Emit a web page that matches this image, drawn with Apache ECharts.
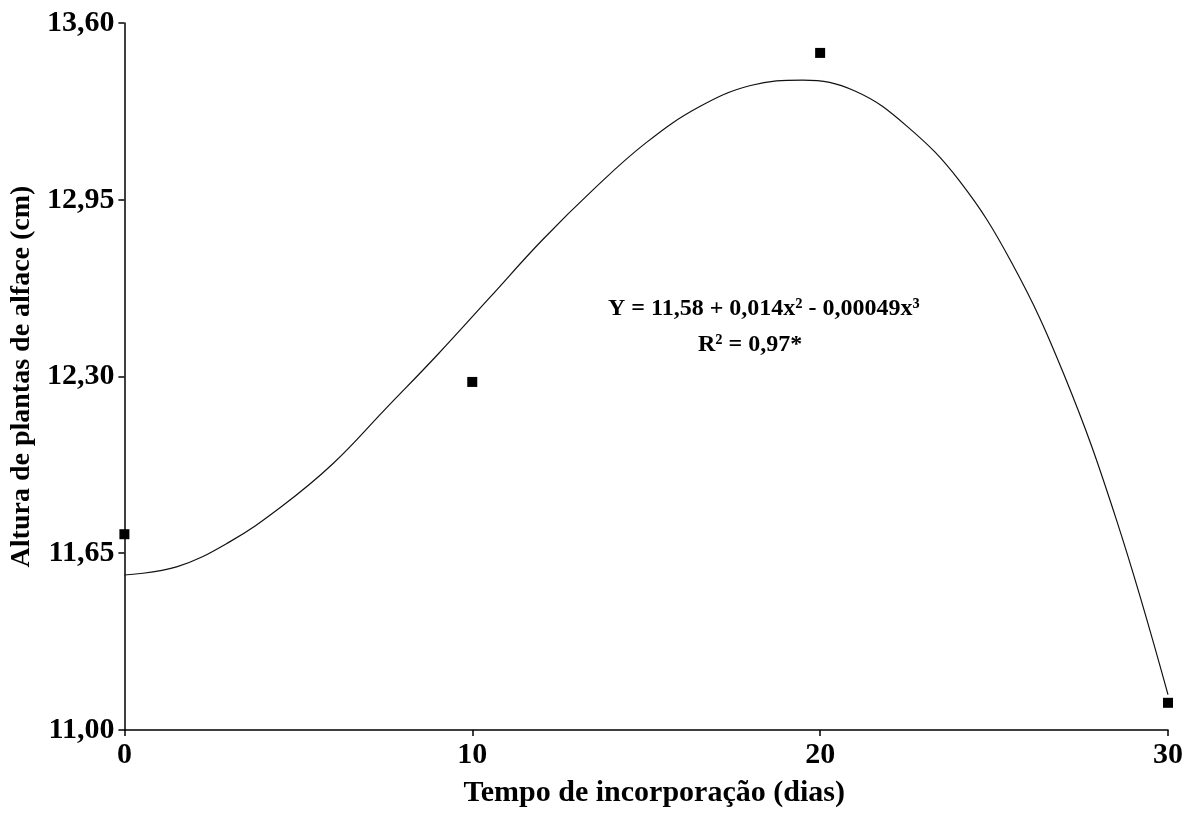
<!DOCTYPE html>
<html>
<head>
<meta charset="utf-8">
<script src="https://cdn.jsdelivr.net/npm/echarts@6/dist/echarts.min.js"></script>
<style>
html,body{margin:0;padding:0;background:#fff;}
#chart{width:1193px;height:813px;}
</style>
</head>
<body>
<div id="chart"></div>
<script>
// Observed means (x = dias, y = altura cm)
const obsX = [0, 10, 20, 30];
const obsY = [11.72, 12.28, 13.49, 11.10];

// Fitted curve, points
const curveX = [0, 1.5, 3, 4.5, 6, 7.5, 9, 10.5, 12, 13.5, 15, 16.5, 18, 19.5, 21, 22.5, 24, 25.5, 27, 28.5, 30];
const curveY = [11.57, 11.60, 11.69, 11.82, 11.98, 12.18, 12.38, 12.59, 12.80, 12.99, 13.16, 13.29, 13.37, 13.39, 13.35, 13.22, 13.02, 12.72, 12.31, 11.78, 11.13];

const xTicks = [0, 10, 20, 30];
const yTicks = [11.00, 11.65, 12.30, 12.95, 13.60];

const xTitle = 'Tempo de incorporação (dias)';
const yTitle = 'Altura de plantas de alface (cm)';
const eqLine1 = 'Y = 11,58 + 0,014x² - 0,00049x³';
const eqLine2 = 'R² = 0,97*';

const serif = '"Liberation Serif", "Times New Roman", serif';

const chart = echarts.init(document.getElementById('chart'));
chart.setOption({
  backgroundColor: '#fff',
  animation: false,
  grid: {left: 120, right: 25, top: 23, bottom: 78, containLabel: false},
  xAxis: {
    type: 'value',
    min: xTicks[0], max: xTicks[xTicks.length - 1], interval: 10,
    name: xTitle, nameLocation: 'middle', nameGap: 48,
    nameTextStyle: {fontFamily: serif, fontWeight: 'bold', fontSize: 30, color: '#000', padding: [0, 0, 0, 16]},
    axisLine: {lineStyle: {color: '#000', width: 1.5}},
    axisTick: {show: true, inside: false, length: 6, lineStyle: {color: '#000', width: 1.5}},
    axisLabel: {fontFamily: serif, fontWeight: 'bold', fontSize: 30, color: '#000', margin: 10},
    splitLine: {show: false}
  },
  yAxis: {
    type: 'value',
    min: yTicks[0], max: yTicks[yTicks.length - 1], interval: 0.65,
    name: yTitle, nameLocation: 'middle', nameGap: 86, nameRotate: 90,
    nameTextStyle: {fontFamily: serif, fontWeight: 'bold', fontSize: 28, color: '#000'},
    axisLine: {show: true, lineStyle: {color: '#000', width: 1.5}},
    axisTick: {show: true, inside: false, length: 6, lineStyle: {color: '#000', width: 1.5}},
    axisLabel: {fontFamily: serif, fontWeight: 'bold', fontSize: 30, color: '#000', margin: 10,
      formatter: v => v.toFixed(2).replace('.', ',')},
    splitLine: {show: false}
  },
  series: [
    {
      type: 'line',
      data: curveX.map((x, i) => [x, curveY[i]]),
      smooth: 0.4,
      showSymbol: false,
      lineStyle: {color: '#111', width: 1.2},
      z: 2
    },
    {
      type: 'scatter',
      data: obsX.map((x, i) => [x, obsY[i]]),
      symbol: 'rect',
      symbolSize: 10,
      itemStyle: {color: '#000', opacity: 1},
      z: 3
    }
  ],
  graphic: [
    {type: 'text', left: 608, top: 297,
      style: {text: eqLine1, font: 'bold 24px ' + serif, fill: '#000'}},
    {type: 'text', left: 698, top: 333,
      style: {text: eqLine2, font: 'bold 24px ' + serif, fill: '#000'}}
  ]
});
</script>
</body>
</html>
